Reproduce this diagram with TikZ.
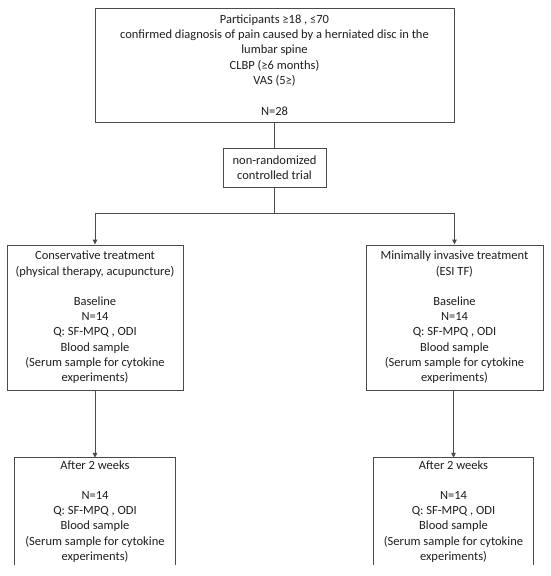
\documentclass[tikz,border=0pt]{standalone}
\usepackage{fontspec}
\setmainfont{Carlito}
\usetikzlibrary{arrows.meta}
\definecolor{linec}{HTML}{4A4A4A}
\definecolor{textc}{HTML}{1E1E1E}
\begin{document}
\begin{tikzpicture}[x=1pt,y=1pt,
  every node/.style={font=\fontsize{12.5}{15.3}\selectfont, text=textc, align=center, inner sep=0pt},
  box/.style={draw=linec, line width=1pt, rectangle},
  openbox/.style={rectangle},
  conn/.style={draw=linec, line width=1pt},
  arr/.style={conn, -{Triangle[length=5pt,width=4.5pt]}}]
\useasboundingbox (0,0) rectangle (550,-576);
\node[box, minimum width=359, minimum height=114] (top) at (274.5,-65)
  {Participants ≥18 , ≤70\\
   confirmed diagnosis of pain caused by a herniated disc in the\\
   lumbar spine\\
   CLBP (≥6 months)\\
   VAS (5≥)\\[15.3pt]
   N=28};
\node[box, minimum width=103, minimum height=39] (mid) at (274.5,-167.5)
  {non-randomized\\controlled trial};
\coordinate (junc) at (274.5,-213);
\node[box, minimum width=176, minimum height=145] (left) at (95,-317.5)
  {Conservative treatment\\
   (physical therapy, acupuncture)\\[15pt]
   Baseline\\
   N=14\\
   Q: SF-MPQ , ODI\\
   Blood sample\\
   (Serum sample for cytokine\\
   experiments)};
\node[box, minimum width=177, minimum height=145] (right) at (454.5,-317.5)
  {Minimally invasive treatment\\
   (ESI TF)\\[15pt]
   Baseline\\
   N=14\\
   Q: SF-MPQ , ODI\\
   Blood sample\\
   (Serum sample for cytokine\\
   experiments)};
\node[openbox, minimum width=160, minimum height=107] (bl) at (95,-511.5)
  {After 2 weeks\\[15pt]
   N=14\\
   Q: SF-MPQ , ODI\\
   Blood sample\\
   (Serum sample for cytokine\\
   experiments)};
\node[openbox, minimum width=159, minimum height=107] (br) at (453.5,-511.5)
  {After 2 weeks\\[15pt]
   N=14\\
   Q: SF-MPQ , ODI\\
   Blood sample\\
   (Serum sample for cytokine\\
   experiments)};
\draw[conn] (bl.south west) -- (bl.north west) -- (bl.north east) -- (bl.south east);
\draw[conn] (br.south west) -- (br.north west) -- (br.north east) -- (br.south east);
\draw[conn] (top.south) -- (mid.north);
\draw[conn] (mid.south) -- (junc);
\draw[arr] (junc) -| (left.north);
\draw[arr] (junc) -| (right.north);
\draw[arr] (left.south) -- (bl.north);
\draw[arr] (right.south -| br.north) -- (br.north);
\end{tikzpicture}
\end{document}
